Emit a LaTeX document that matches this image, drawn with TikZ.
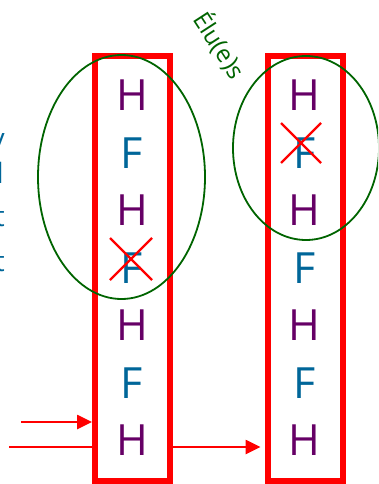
\documentclass[tikz,border=0pt]{standalone}
\usepackage{fontspec}
\setmainfont{Open Sans}
\usetikzlibrary{arrows.meta}

\definecolor{hcol}{RGB}{102,0,102}
\definecolor{fcol}{RGB}{0,102,153}
\definecolor{ringcol}{RGB}{0,100,0}

\tikzset{
  hletter/.style={text=hcol, font=\fontsize{43}{43}\selectfont, inner sep=0pt},
  fletter/.style={text=fcol, font=\fontsize{43}{43}\selectfont, inner sep=0pt},
  margin/.style={text=fcol, font=\fontsize{28}{28}\selectfont, inner sep=0pt, anchor=base east},
  column/.style={draw=red, line width=6pt, minimum width=75pt, minimum height=425pt, inner sep=0pt},
  ring/.style={draw=ringcol, line width=1.8pt},
  cross/.style={draw=red, line width=2.4pt},
  feed/.style={draw=red, line width=2.6pt},
  tip/.style={-{Triangle[length=15pt,width=14pt]}},
}

\begin{document}
\begin{tikzpicture}[x=1pt, y=-1pt]
    % Page frame (pixel coordinates, y going down)
    \path[use as bounding box] (0,0) rectangle (378,484);
    \clip (0,0) rectangle (378,484);

    % Text running off the left edge
    \node[margin] (m1) at (5,148) {y};
    \node[margin] (m2) at (4,183) {l};
    \node[margin] (m3) at (5,226) {t};
    \node[margin] (m4) at (5,271) {t};

    % The two columns
    \node[column] (left) at (132.5,268.5) {};
    \node[column] (right) at (305,268.5) {};

    % Letters of the left column
    \node[hletter] (l1) at (132,95.5) {H};
    \node[fletter] (l2) at (132,153) {F};
    \node[hletter] (l3) at (132,210.5) {H};
    \node[fletter] (l4) at (132,268) {F};
    \node[hletter] (l5) at (132,325.5) {H};
    \node[fletter] (l6) at (132,383) {F};
    \node[hletter] (l7) at (132,440.5) {H};

    % Letters of the right column
    \node[hletter] (r1) at (304.5,95.5) {H};
    \node[fletter] (r2) at (304.5,153) {F};
    \node[hletter] (r3) at (304.5,210.5) {H};
    \node[fletter] (r4) at (304.5,268) {F};
    \node[hletter] (r5) at (304.5,325.5) {H};
    \node[fletter] (r6) at (304.5,383) {F};
    \node[hletter] (r7) at (304.5,440.5) {H};

    % Struck out letters
    \coordinate (x4) at (131,259);
    \coordinate (x2) at (301,143);
    \draw[cross] (x4) +(-21,-21) -- +(21,21);
    \draw[cross] (x4) +(-21,21) -- +(21,-21);
    \draw[cross] (x2) +(-20,-20) -- +(20,20);
    \draw[cross] (x2) +(-20,20) -- +(20,-20);

    % Green rings around the elected group
    \draw[ring] (121.5,177) ellipse [x radius=83.5pt, y radius=122pt];
    \draw[ring] (306,148) ellipse [x radius=73pt, y radius=92pt];
    \node[text=ringcol, font=\fontsize{24}{24}\selectfont, rotate=-57] (elus) at (220,45) {Élu(e)s};

    % Inputs and transfer between the columns
    \coordinate (in1) at (21,422);
    \coordinate (in2) at (9,447);
    \draw[feed, tip] (in1) -- (in1 -| left.west);
    \draw[feed] (in2) -- (in2 -| left.west);
    \draw[feed, tip, shorten >=4pt] (left.east |- in2) -- (right.west |- in2);

\end{tikzpicture}
\end{document}
